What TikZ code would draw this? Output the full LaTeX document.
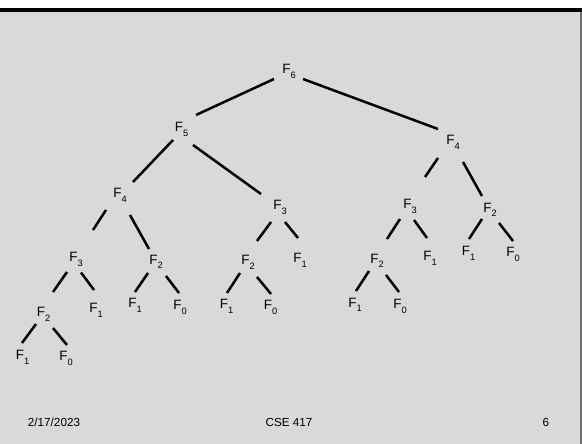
\documentclass[tikz,border=0pt]{standalone}
\usepackage{fontspec}
\setmainfont{Liberation Sans}
\definecolor{slidebg}{HTML}{D9D9D9}
\definecolor{rborder}{HTML}{707070}
\newcommand{\Fs}[1]{F\raisebox{-4.3pt}{\fontsize{9.3}{9.3}\selectfont #1}}
\newcommand{\conn}[4]{\draw[edge] ([shift={(#2)}]#1.center) -- ([shift={(#4)}]#3.center);}
\tikzset{
  lab/.style={inner sep=0pt, text=black, font=\fontsize{13.5}{13.5}\selectfont},
  foot/.style={inner sep=0pt, text=black, font=\fontsize{11.7}{12}\selectfont},
  edge/.style={draw=black, line width=2.5pt}
}
\begin{document}
\begin{tikzpicture}[x=1pt,y=-1pt]
\useasboundingbox (0,0) rectangle (582,444);
\fill[white] (0,0) rectangle (582,444);
\fill[slidebg] (0,11) rectangle (580.3,444);
\draw[rborder, line width=1.2pt] (580.9,11) -- (580.9,444);
\fill[black] (0,8) rectangle (582,11.6);
% nodes
\node[lab] (F6) at (289,71.5) {\Fs{6}};
\node[lab] (F5) at (181.5,129.5) {\Fs{5}};
\node[lab] (F4r) at (453,142.5) {\Fs{4}};
\node[lab] (F4l) at (120,195.5) {\Fs{4}};
\node[lab] (F3m) at (280,207.5) {\Fs{3}};
\node[lab] (F3r) at (410,206.5) {\Fs{3}};
\node[lab] (F2r) at (490,210) {\Fs{2}};
\node[lab] (F3l) at (76,259.5) {\Fs{3}};
\node[lab] (F2a) at (156,262) {\Fs{2}};
\node[lab] (F2b) at (248,262.5) {\Fs{2}};
\node[lab] (F1m) at (300,260.5) {\Fs{1}};
\node[lab] (F2c) at (377,261) {\Fs{2}};
\node[lab] (F1r) at (430,258.5) {\Fs{1}};
\node[lab] (F1rr) at (468.5,253.5) {\Fs{1}};
\node[lab] (F0rr) at (513,254.5) {\Fs{0}};
\node[lab] (F2l) at (43.5,314.5) {\Fs{2}};
\node[lab] (F1l) at (96,310.5) {\Fs{1}};
\node[lab] (F1a) at (135,305.5) {\Fs{1}};
\node[lab] (F0a) at (180,307.5) {\Fs{0}};
\node[lab] (F1b) at (226.5,306.5) {\Fs{1}};
\node[lab] (F0b) at (270.5,307.5) {\Fs{0}};
\node[lab] (F1c) at (355,305) {\Fs{1}};
\node[lab] (F0c) at (400,306.5) {\Fs{0}};
\node[lab] (F1ll) at (22.5,357.5) {\Fs{1}};
\node[lab] (F0ll) at (66,358.5) {\Fs{0}};
% connectors
\conn{F6}{-15,7.5}{F5}{14.5,-14.5}
\conn{F6}{14,7.5}{F4r}{-15,-13.5}
\conn{F5}{-8.5,10.5}{F4l}{13,-13.5}
\conn{F5}{11.5,15.5}{F3m}{-19,-13.5}
\conn{F4l}{-14,14.5}{F3l}{17,-29.5}
\conn{F4l}{10,19.5}{F2a}{-7,-13}
\conn{F3m}{-9,14.5}{F2b}{9,-21.5}
\conn{F3m}{5,14.5}{F1m}{-2,-22.5}
\conn{F4r}{-15,15.5}{F3r}{15,-29.5}
\conn{F4r}{10,19.5}{F2r}{-8,-14}
\conn{F3r}{-10,12.5}{F2c}{10,-22}
\conn{F3r}{4,13.5}{F1r}{-3,-20.5}
\conn{F2r}{-8,9}{F1rr}{0.5,-14.5}
\conn{F2r}{9,13}{F0rr}{0,-13.5}
\conn{F3l}{-9,12.5}{F2l}{9.5,-22.5}
\conn{F3l}{5,13}{F1l}{-2,-20.5}
\conn{F2a}{-8,11}{F1a}{0,-13.5}
\conn{F2a}{10,14}{F0a}{-1,-14.5}
\conn{F2b}{-8,10.5}{F1b}{0.5,-13.5}
\conn{F2b}{9,14.5}{F0b}{0.5,-13.5}
\conn{F2c}{-8,10}{F1c}{1,-14}
\conn{F2c}{9,14}{F0c}{-1,-14.5}
\conn{F2l}{-7.5,9.5}{F1ll}{-0.5,-14.5}
\conn{F2l}{9.5,13.5}{F0ll}{1,-13.5}
% footer
\node[foot] (date) at (54,422) {2/17/2023};
\node[foot] (course) at (289,422) {CSE 417};
\node[foot] (page) at (546,422.5) {6};
\end{tikzpicture}
\end{document}
